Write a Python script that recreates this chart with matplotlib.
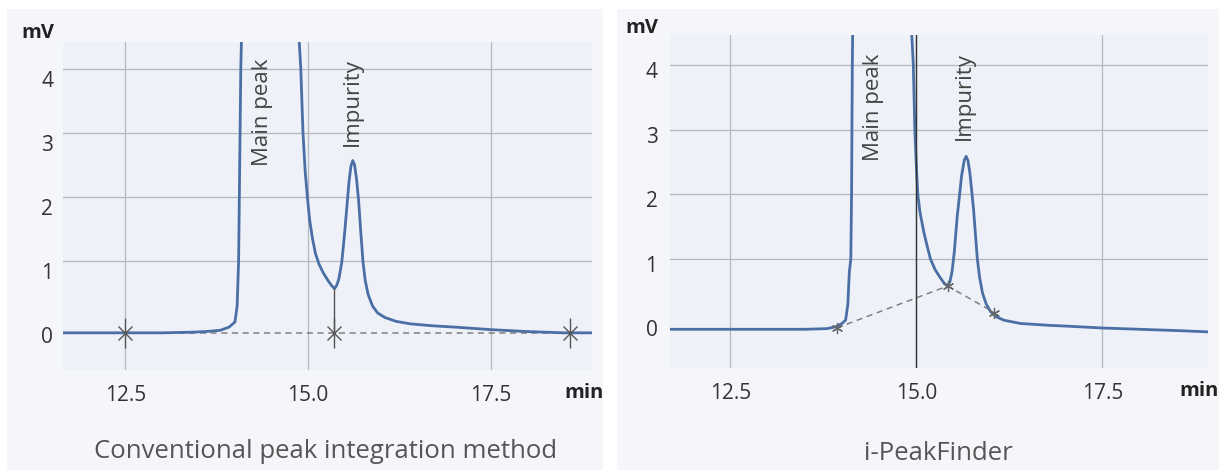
import matplotlib
matplotlib.use('Agg')
import matplotlib.pyplot as plt
import matplotlib.transforms as mtrans
from matplotlib.patches import Rectangle

plt.rcParams['font.family'] = ['Open Sans', 'DejaVu Sans']

# chromatogram, time in min, signal in mV
conv_t = [11.65, 12.5, 13.0, 13.4, 13.6, 13.8, 13.92, 14.0, 14.03, 14.05, 14.06, 14.07,
          14.08, 14.10, 14.45, 14.86, 14.88, 14.90, 14.93, 14.96, 14.99, 15.02, 15.06,
          15.10, 15.15, 15.21, 15.27, 15.32, 15.36, 15.39, 15.42, 15.46, 15.50, 15.53,
          15.56, 15.585, 15.61, 15.635, 15.66, 15.69, 15.72, 15.75, 15.78, 15.82, 15.88,
          15.95, 16.05, 16.2, 16.4, 16.7, 17.0, 17.5, 18.0, 18.5, 18.88]
conv_mv = [-0.12, -0.12, -0.12, -0.11, -0.10, -0.08, -0.03, 0.05, 0.3, 1.0, 2.0, 3.0,
           4.0, 5.0, 40.0, 5.0, 4.4, 4.0, 3.0, 2.4, 2.0, 1.65, 1.35,
           1.12, 0.95, 0.81, 0.70, 0.62, 0.57, 0.62, 0.72, 0.98, 1.45, 1.85,
           2.25, 2.48, 2.57, 2.50, 2.30, 1.95, 1.45, 0.99, 0.70, 0.48, 0.30,
           0.19, 0.12, 0.06, 0.02, -0.01, -0.03, -0.07, -0.10, -0.12, -0.12]

ipf_t = [11.69, 12.5, 13.0, 13.5, 13.8, 13.92, 14.0, 14.05, 14.08, 14.10, 14.12, 14.13,
         14.135, 14.14, 14.15, 14.5, 14.93, 14.94, 14.96, 14.98, 15.0, 15.02, 15.05,
         15.10, 15.15, 15.19, 15.25, 15.31, 15.37, 15.42, 15.45, 15.48, 15.51, 15.55,
         15.58, 15.61, 15.645, 15.67, 15.695, 15.72, 15.745, 15.77, 15.80, 15.82, 15.85,
         15.89, 15.94, 16.0, 16.08, 16.18, 16.4, 16.8, 17.0, 17.5, 18.0, 18.5, 18.92]
ipf_mv = [-0.09, -0.09, -0.09, -0.09, -0.08, -0.05, 0.0, 0.05, 0.3, 0.8, 1.0, 2.0,
          3.0, 4.0, 5.0, 40.0, 5.0, 4.45, 4.0, 3.0, 2.45, 2.0, 1.72,
          1.42, 1.18, 1.0, 0.84, 0.73, 0.63, 0.58, 0.64, 0.80, 1.10, 1.66,
          1.98, 2.30, 2.53, 2.59, 2.52, 2.33, 2.05, 1.76, 1.30, 1.0, 0.72,
          0.47, 0.30, 0.18, 0.10, 0.05, 0.0, -0.03, -0.04, -0.07, -0.09, -0.11, -0.13]

# integration baselines / peak cuts
conv_base_t = [12.5, 15.36, 18.58]
conv_base_mv = [-0.12, -0.12, -0.12]
conv_drop_t = 15.36
conv_drop_mv = [0.57, -0.12]

ipf_base_t = [13.93, 15.42, 16.05]
ipf_base_mv = [-0.07, 0.58, 0.17]
ipf_cut_t = 15.0

xticks = [12.5, 15.0, 17.5]
xlabels = ['12.5', '15.0', '17.5']
yticks = [0, 1, 2, 3, 4]
ylabels = ['0', '1', '2', '3', '4']
titles = ['Conventional peak integration method', 'i-PeakFinder']

W, H = 1219, 470
fig = plt.figure(figsize=(W / 100, H / 100), dpi=100)
fig.patch.set_facecolor('white')

# light panel backgrounds
for x0, x1 in [(7, 603), (617, 1219)]:
    fig.add_artist(Rectangle((x0 / W, 0), (x1 - x0) / W, 1 - 9 / H,
                             transform=fig.transFigure, facecolor='#f4f6fa',
                             edgecolor='none', zorder=-10))

ax1 = fig.add_axes([63 / W, (H - 370) / H, (592 - 63) / W, (370 - 42) / H])
ax2 = fig.add_axes([670 / W, (H - 368) / H, (1208 - 670) / W, (368 - 35) / H])

line_c = '#4a6fa5'
grid_c = '#b4b8bf'

for ax in (ax1, ax2):
    ax.set_facecolor('#eef1f7')
    for s in ax.spines.values():
        s.set_visible(False)
    ax.set_xticks(xticks)
    ax.set_xticklabels(xlabels)
    ax.set_yticks(yticks)
    ax.set_yticklabels(ylabels)
    ax.tick_params(length=0, labelsize=15, colors='#333333')
    ax.tick_params(axis='x', pad=11)
    ax.grid(True, color=grid_c, linewidth=0.9)
    ax.set_axisbelow(True)
    ax.get_ygridlines()[0].set_visible(False)

ax1.tick_params(axis='y', pad=7)
ax2.tick_params(axis='y', pad=9)

ax1.set_xlim(11.65, 18.88)
ax1.set_ylim(-0.70, 4.42)
ax2.set_xlim(11.69, 18.92)
ax2.set_ylim(-0.69, 4.47)

txt_kw = dict(rotation=90, ha='center', va='center', fontsize=16, color='#444444')

# conventional panel
ax1.plot(conv_base_t, conv_base_mv, color='#808080', lw=1.1, ls=(0, (4, 3)), zorder=2)
ax1.plot(conv_t, conv_mv, color=line_c, lw=2.0, zorder=3, solid_joinstyle='round')
ax1.plot([conv_drop_t, conv_drop_t], conv_drop_mv, color='#555555', lw=1.0, zorder=4)
ax1.plot(conv_base_t, conv_base_mv, ls='none', marker='|', ms=21, mew=1.0,
         color='#555555', zorder=5)
ax1.plot(conv_base_t, conv_base_mv, ls='none', marker='x', ms=10, mew=1.0,
         color='#555555', zorder=5)
ax1.text(14.37, 3.32, 'Main peak', **txt_kw)
ax1.text(15.60, 3.48, 'Impurity', **txt_kw)

# i-PeakFinder panel
ax2.axvline(ipf_cut_t, color='#333333', lw=1.0, zorder=4)
ax2.plot(ipf_base_t, ipf_base_mv, color='#808080', lw=1.1, ls=(0, (4, 3)), zorder=2)
ax2.plot(ipf_t, ipf_mv, color=line_c, lw=2.0, zorder=3, solid_joinstyle='round')
ax2.plot(ipf_base_t, ipf_base_mv, ls='none', marker=(6, 2, 0), ms=8, mew=0.9,
         color='#666666', zorder=5)
ax2.text(14.43, 3.35, 'Main peak', **txt_kw)
ax2.text(15.64, 3.52, 'Impurity', **txt_kw)

# y labels sit a little below their grid lines in the original
for ax, dy in [(ax1, -0.10), (ax2, -0.05)]:
    off = mtrans.ScaledTranslation(0, dy, fig.dpi_scale_trans)
    for lab in ax.get_yticklabels():
        lab.set_transform(lab.get_transform() + off)

unit_kw = dict(ha='center', va='center', fontsize=14.5, fontweight='bold', color='#222222')
fig.text(38 / W, 1 - 33 / H, 'mV', **unit_kw)
fig.text(642 / W, 1 - 28 / H, 'mV', **unit_kw)
fig.text(584 / W, 1 - 393 / H, 'min', **unit_kw)
fig.text(1199 / W, 1 - 391 / H, 'min', **unit_kw)

fig.text(326 / W, 1 - 452 / H, titles[0], ha='center', va='center', fontsize=18.5,
         color='#555555')
fig.text(938 / W, 1 - 453 / H, titles[1], ha='center', va='center', fontsize=18.5,
         color='#555555')

fig.savefig('out.png', dpi=100, facecolor=fig.get_facecolor())
